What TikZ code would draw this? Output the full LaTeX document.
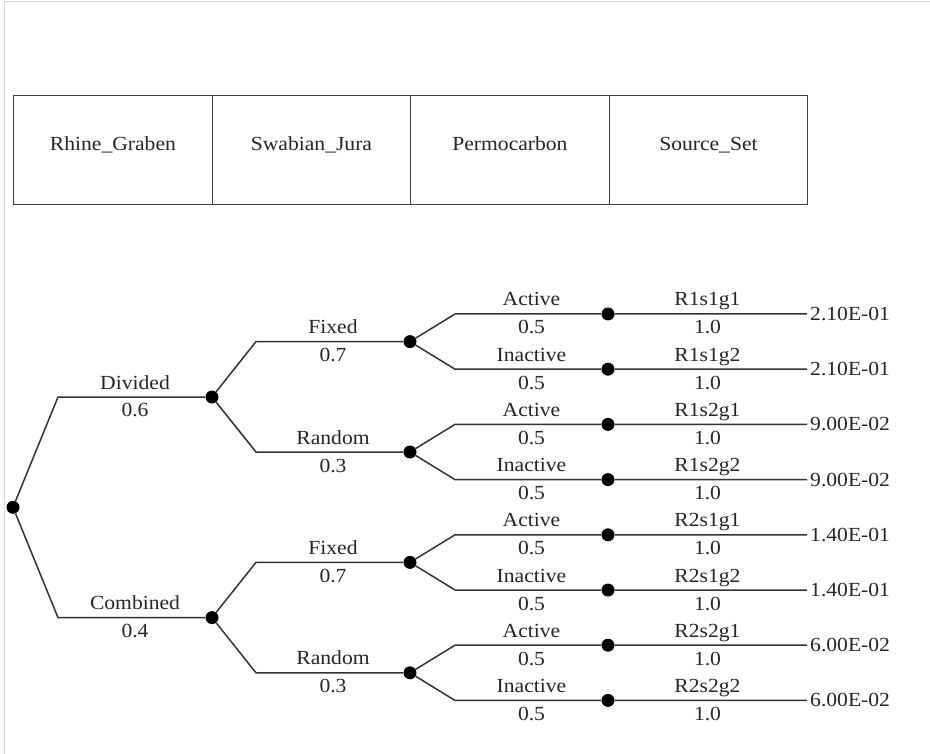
\documentclass[tikz,border=0pt]{standalone}
\usepackage{fontspec}
\setmainfont{Liberation Serif}[FakeStretch=1.08]
\begin{document}
\begin{tikzpicture}[x=1pt,y=-1pt,
  branch/.style={draw=black!80, line width=1.5pt},
  chance/.style={circle, fill=black, inner sep=0pt, minimum size=13pt},
  lbl/.style={font=\fontsize{20}{24}\selectfont, anchor=base, inner sep=0pt, text=black!85},
  hdr/.style={draw=black!75, line width=1.4pt, anchor=north west, minimum width=198.5pt, minimum height=109pt, inner sep=0pt},
]
\useasboundingbox (0,0) rectangle (930,754);
\fill[white] (0,0) rectangle (930,754);
\draw[black!15, line width=1pt] (4,754) -- (4,2) -- (930,2);

% header row of variable names
\node[hdr] (h1) at (13,95) {};
\node[hdr] (h2) at (211.5,95) {};
\node[hdr] (h3) at (410,95) {};
\node[hdr] (h4) at (608.5,95) {};
\node[lbl] (t1) at (h1.center) [yshift=-0.5pt] {Rhine\_Graben};
\node[lbl] (t2) at (h2.center) [yshift=-0.5pt] {Swabian\_Jura};
\node[lbl] (t3) at (h3.center) [yshift=-0.5pt] {Permocarbon};
\node[lbl] (t4) at (h4.center) [yshift=-0.5pt] {Source\_Set};

% first level
\node[chance] (root) at (13,507.3) {};
\node[chance] (d) at (212,397) {};
\node[chance] (c) at (212,617.6) {};
\coordinate (dk) at (58,397);
\coordinate (ck) at (58,617.6);
\draw[branch] (root) -- (dk) -- (d);
\draw[branch] (root) -- (ck) -- (c);
\node[lbl] (ld) at (135,389) {Divided};
\node[lbl] (pd) at (135,417) {0.6};
\node[lbl] (lc) at (135,609.6) {Combined};
\node[lbl] (pc) at (135,637.6) {0.4};

% second level
\foreach \j/\y/\from/\nm/\pr in {1/341.6/d/Fixed/0.7, 2/452/d/Random/0.3, 3/562.4/c/Fixed/0.7, 4/672.8/c/Random/0.3}{
  \node[chance] (m\j) at (410,\y) {};
  \coordinate (mk\j) at (256,\y);
  \draw[branch] (\from) -- (mk\j) -- (m\j);
  \node[lbl] (ml\j) at (333,\y-8) {\nm};
  \node[lbl] (mp\j) at (333,\y+20) {\pr};
}

% third level and end points
\foreach \k/\st/\rid/\vv in {0/Active/R1s1g1/2.10E-01, 1/Inactive/R1s1g2/2.10E-01,
    2/Active/R1s2g1/9.00E-02, 3/Inactive/R1s2g2/9.00E-02,
    4/Active/R2s1g1/1.40E-01, 5/Inactive/R2s1g2/1.40E-01,
    6/Active/R2s2g1/6.00E-02, 7/Inactive/R2s2g2/6.00E-02}{
  \pgfmathsetmacro\yy{314+55.2*\k}
  \pgfmathtruncatemacro\pj{int(\k/2)+1}
  \node[chance] (s\k) at (608,\yy) {};
  \coordinate (sk\k) at (455,\yy);
  \coordinate (e\k) at (807,\yy);
  \draw[branch] (m\pj) -- (sk\k) -- (s\k) -- (e\k);
  \node[lbl] (sl\k) at (531.5,\yy-8) {\st};
  \node[lbl] (sp\k) at (531.5,\yy+20) {0.5};
  \node[lbl] (rl\k) at (707.5,\yy-8) {\rid};
  \node[lbl] (rp\k) at (707.5,\yy+20) {1.0};
  \node[lbl, anchor=base west] (v\k) at (e\k) [yshift=-6.5pt, xshift=3pt] {\vv};
}
\end{tikzpicture}
\end{document}
